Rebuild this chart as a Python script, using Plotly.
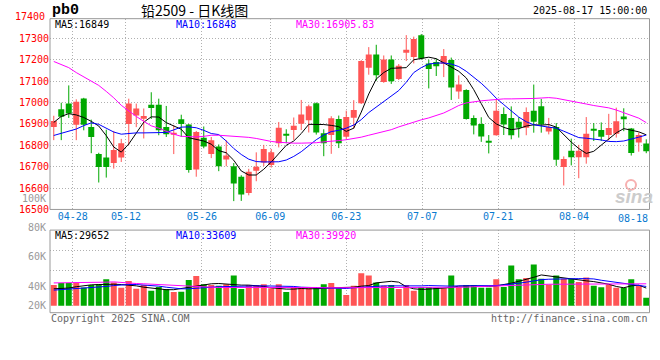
import plotly.graph_objects as go

# ---------------- data ----------------
dates = ["04-23", "04-24", "04-25", "04-28", "04-29", "04-30", "05-06", "05-07", "05-08", "05-09",
         "05-12", "05-13", "05-14", "05-15", "05-16", "05-19", "05-20", "05-21", "05-22", "05-23",
         "05-26", "05-27", "05-28", "05-29", "05-30", "06-03", "06-04", "06-05", "06-06", "06-09",
         "06-10", "06-11", "06-12", "06-13", "06-16", "06-17", "06-18", "06-19", "06-20", "06-23",
         "06-24", "06-25", "06-26", "06-27", "06-30", "07-01", "07-02", "07-03", "07-04", "07-07",
         "07-08", "07-09", "07-10", "07-11", "07-14", "07-15", "07-16", "07-17", "07-18", "07-21",
         "07-22", "07-23", "07-24", "07-25", "07-28", "07-29", "07-30", "07-31", "08-01", "08-04",
         "08-05", "08-06", "08-07", "08-08", "08-11", "08-12", "08-13", "08-14", "08-15", "08-18"]

opens = [16885, 16969, 16995, 16896, 17019, 16885, 16759, 16743, 16717, 16743,
         16900, 16939, 16928, 16989, 16989, 16885, 16850, 16922, 16897, 16687,
         16835, 16759, 16794, 16733, 16702, 16653, 16577, 16681, 16719, 16708,
         16810, 16853, 16871, 16901, 16917, 16996, 16856, 16848, 16923, 16840,
         16929, 16996, 17163, 17224, 17096, 17201, 17110, 17233, 17213, 17315,
         17183, 17189, 17181, 17199, 17051, 17058, 16928, 16900, 16821, 16847,
         16946, 16928, 16910, 16882, 16962, 16982, 16864, 16885, 16698, 16775,
         16744, 16744, 16877, 16871, 16848, 16854, 16935, 16878, 16813, 16808]
highs = [16938, 16999, 17080, 17015, 17022, 16920, 16765, 16873, 16867, 16830,
         17018, 16995, 16972, 17048, 17018, 16984, 16893, 16943, 16900, 16867,
         16888, 16839, 16804, 16824, 16717, 16660, 16690, 16767, 16802, 16783,
         16909, 16875, 16930, 17012, 16990, 17000, 16875, 16936, 16939, 16962,
         17011, 17198, 17259, 17270, 17220, 17220, 17180, 17315, 17308, 17320,
         17200, 17205, 17250, 17210, 17127, 17062, 16940, 16931, 16848, 17012,
         16977, 16982, 16931, 16977, 17084, 17017, 16928, 16904, 16748, 16831,
         16802, 16932, 16904, 16907, 16947, 16976, 16973, 16881, 16860, 16828]
lows = [16824, 16824, 16928, 16824, 16870, 16763, 16626, 16649, 16691, 16722,
        16801, 16885, 16832, 16923, 16847, 16839, 16759, 16839, 16672, 16653,
        16786, 16740, 16679, 16702, 16539, 16540, 16566, 16632, 16703, 16696,
        16790, 16810, 16825, 16871, 16860, 16850, 16749, 16760, 16787, 16828,
        16878, 16993, 17130, 17102, 17092, 17087, 17105, 17194, 17183, 17200,
        17066, 17124, 17119, 17012, 17017, 16920, 16851, 16816, 16762, 16845,
        16848, 16828, 16836, 16847, 16859, 16859, 16851, 16704, 16612, 16706,
        16646, 16714, 16820, 16820, 16822, 16836, 16866, 16752, 16770, 16763]
closes = [16913, 16934, 16949, 17004, 16896, 16839, 16699, 16699, 16778, 16809,
          16995, 16972, 16937, 16974, 16870, 16852, 16858, 16900, 16684, 16862,
          16794, 16824, 16702, 16752, 16621, 16570, 16676, 16700, 16783, 16767,
          16882, 16847, 16891, 16944, 16982, 16860, 16810, 16927, 16810, 16932,
          16965, 17194, 17224, 17127, 17201, 17099, 17172, 17247, 17297, 17206,
          17157, 17170, 17217, 17070, 17084, 16923, 16893, 16841, 16815, 16962,
          16897, 16847, 16882, 16956, 16910, 16897, 16885, 16732, 16736, 16744,
          16775, 16854, 16869, 16840, 16881, 16912, 16922, 16764, 16848, 16772]

ma5 = [16907, 16935, 16948, 16942, 16930, 16912, 16890, 16845, 16792, 16768,
       16806, 16860, 16908, 16933, 16932, 16906, 16890, 16875, 16835, 16828,
       16820, 16805, 16775, 16765, 16730, 16680, 16661, 16661, 16688, 16722,
       16760, 16800, 16820, 16855, 16898, 16899, 16897, 16893, 16887, 16865,
       16880, 16955, 17040, 17110, 17140, 17160, 17163, 17163, 17200, 17206,
       17212, 17205, 17185, 17163, 17146, 17115, 17060, 16995, 16930, 16900,
       16884, 16873, 16878, 16890, 16896, 16894, 16897, 16885, 16848, 16815,
       16785, 16762, 16772, 16800, 16830, 16858, 16878, 16872, 16863, 16849]
ma10 = [16846, 16856, 16865, 16876, 16892, 16905, 16898, 16880, 16862, 16852,
        16856, 16858, 16858, 16858, 16858, 16860, 16872, 16885, 16886, 16882,
        16870, 16855, 16850, 16820, 16785, 16757, 16735, 16724, 16722, 16722,
        16723, 16731, 16748, 16770, 16798, 16826, 16848, 16864, 16870, 16880,
        16895, 16920, 16953, 16978, 17002, 17028, 17056, 17095, 17140, 17163,
        17180, 17184, 17185, 17180, 17168, 17146, 17120, 17090, 17057, 17020,
        16990, 16960, 16932, 16910, 16896, 16890, 16886, 16880, 16866, 16850,
        16836, 16833, 16830, 16825, 16818, 16817, 16820, 16828, 16838, 16848]
ma30 = [17192, 17178, 17163, 17140, 17120, 17102, 17080, 17052, 17022, 16987,
        16959, 16935, 16912, 16891, 16880, 16865, 16852, 16842, 16840, 16839,
        16842, 16847, 16847, 16845, 16843, 16840, 16837, 16832, 16824, 16818,
        16814, 16811, 16810, 16810, 16810, 16812, 16816, 16818, 16822, 16826,
        16831, 16838, 16847, 16855, 16864, 16873, 16886, 16898, 16909, 16919,
        16928, 16938, 16951, 16968, 16986, 16998, 17004, 17008, 17011, 17015,
        17017, 17017, 17017, 17018, 17019, 17021, 17023, 17020, 17014, 17008,
        17000, 16993, 16986, 16981, 16975, 16965, 16953, 16941, 16927, 16906]

# volume, in thousands
volumes = [40.7, 42.2, 42.2, 42.5, 39.1, 40.7, 41.3, 44.7, 42.5, 38.9,
           43.5, 38.2, 40.7, 36.9, 39.5, 38.0, 36.0, 36.2, 44.2, 46.9,
           41.3, 40.7, 40.2, 41.3, 47.3, 38.0, 40.7, 40.7, 41.3, 38.5,
           41.3, 36.0, 39.1, 39.1, 38.5, 38.5, 41.3, 42.2, 38.5, 34.0,
           40.2, 48.7, 47.3, 42.5, 40.2, 40.7, 38.0, 40.7, 36.9, 39.5,
           39.5, 38.9, 38.5, 47.3, 39.5, 40.7, 40.7, 38.9, 38.9, 44.7,
           39.5, 54.0, 44.7, 45.5, 54.7, 45.1, 41.1, 47.3, 45.1, 45.1,
           42.9, 45.8, 40.2, 39.3, 41.1, 38.9, 38.9, 44.7, 40.2, 32.2]
vol_ma5 = [38.2, 38.4, 38.7, 39.6, 40.4, 40.9, 41.1, 41.3, 41.3, 41.1,
           40.7, 40.2, 39.3, 38.7, 38.0, 37.6, 37.6, 38.4, 39.3, 40.2,
           41.1, 41.6, 41.8, 41.3, 40.9, 40.7, 40.7, 40.4, 39.8, 38.9,
           38.4, 38.0, 38.0, 38.4, 38.2, 38.2, 38.4, 38.9, 38.9, 38.9,
           39.3, 40.0, 40.4, 42.2, 42.9, 43.3, 42.7, 39.6, 38.2, 37.8,
           38.0, 38.2, 38.4, 39.1, 40.0, 40.2, 40.2, 40.0, 39.8, 40.2,
           40.9, 42.0, 43.3, 44.4, 46.0, 47.6, 46.9, 46.0, 45.3, 44.9,
           44.2, 43.6, 43.1, 42.2, 41.3, 39.8, 38.9, 40.2, 40.7, 38.7]
vol_ma10 = [37.3, 37.6, 37.8, 38.2, 38.4, 38.9, 39.3, 39.8, 40.4, 40.9,
            41.1, 41.1, 40.9, 40.4, 40.0, 39.3, 38.7, 38.2, 38.2, 38.7,
            39.1, 39.3, 39.6, 39.8, 40.0, 40.2, 40.2, 40.2, 40.2, 40.2,
            40.2, 40.0, 39.8, 39.3, 39.1, 39.1, 38.9, 38.9, 38.7, 38.4,
            38.9, 39.3, 39.8, 40.2, 40.2, 40.2, 40.2, 39.8, 39.8, 40.2,
            40.4, 40.2, 39.8, 40.0, 40.2, 40.2, 40.2, 40.2, 40.2, 40.4,
            40.9, 41.3, 42.0, 42.7, 43.8, 44.4, 44.7, 44.9, 45.1, 45.1,
            45.1, 45.1, 44.9, 44.0, 43.3, 42.4, 41.6, 40.9, 40.4, 39.8]
vol_ma30 = [42.2, 42.2, 42.2, 42.2, 42.4, 42.7, 42.4, 42.7, 42.9, 42.4,
            42.0, 41.8, 41.6, 41.3, 41.1, 40.9, 40.4, 40.2, 40.0, 39.8,
            39.6, 39.3, 39.1, 39.1, 39.1, 39.1, 39.1, 39.1, 39.3, 39.3,
            39.6, 39.6, 39.6, 39.3, 39.1, 39.1, 38.9, 38.9, 38.9, 38.9,
            38.9, 38.9, 38.9, 38.9, 39.1, 39.1, 39.1, 39.1, 39.1, 38.9,
            38.9, 38.9, 38.9, 39.1, 39.3, 39.3, 39.6, 39.8, 40.0, 40.2,
            40.4, 40.7, 40.9, 41.1, 41.1, 41.3, 41.3, 41.3, 41.3, 41.3,
            41.3, 41.3, 41.3, 41.3, 41.6, 41.6, 41.6, 41.6, 41.6, 41.6]

price_ticks = [16500, 16600, 16700, 16800, 16900, 17000, 17100, 17200, 17300]
date_ticks = ["04-28", "05-12", "05-26", "06-09", "06-23", "07-07", "07-21", "08-04"]
vol_labels = ["100K", "80K", "60K", "40K", "20K"]

header_main = ["MA5:16849", "MA10:16848", "MA30:16905.83"]
header_vol = ["MA5:29652", "MA10:33609", "MA30:39920"]

# ---------------- styling helpers ----------------
W, H = 660, 360
def px(x):
    return x / W
def py(y):
    return 1 - y / H

UP = "#ff5555"
DOWN = "#00a800"
GRID = "#b0b0b0"
FRAME = "#999999"
MONO = "DejaVu Sans Mono"

n = len(dates)
idx = list(range(n))
up = [c >= o for o, c in zip(opens, closes)]
colors = [UP if u else DOWN for u in up]

# Sina places date grid lines with a spacing of width/(n-1)
tick_pos = [dates.index(d) * n / (n - 1) - 0.5 for d in date_ticks]

fig = go.Figure()

# wicks
for flag, col in ((True, UP), (False, DOWN)):
    xs, ys = [], []
    for i in idx:
        if up[i] == flag:
            xs += [i, i, None]
            ys += [lows[i], highs[i], None]
    fig.add_trace(go.Scatter(x=xs, y=ys, mode="lines", line=dict(color=col, width=1),
                             hoverinfo="skip", xaxis="x", yaxis="y"))

# bodies
fig.add_trace(go.Bar(x=idx,
                     base=[min(o, c) for o, c in zip(opens, closes)],
                     y=[max(abs(c - o), 4) for o, c in zip(opens, closes)],
                     width=0.8, marker=dict(color=colors, line=dict(width=0)),
                     xaxis="x", yaxis="y"))

# moving averages
for vals, col in ((ma5, "#000000"), (ma10, "#0000ff"), (ma30, "#ff00ff")):
    fig.add_trace(go.Scatter(x=idx, y=vals, mode="lines", line=dict(color=col, width=1),
                             xaxis="x", yaxis="y"))

# volume
fig.add_trace(go.Bar(x=idx, y=volumes, width=0.8, marker=dict(color=colors, line=dict(width=0)),
                     xaxis="x2", yaxis="y2"))
for vals, col in ((vol_ma5, "#000000"), (vol_ma10, "#0000ff"), (vol_ma30, "#ff00ff")):
    fig.add_trace(go.Scatter(x=idx, y=vals, mode="lines", line=dict(color=col, width=1),
                             xaxis="x2", yaxis="y2"))

xdom = [px(50), px(650)]
grid_common = dict(showgrid=True, gridcolor=GRID, gridwidth=1, griddash="1px,2px",
                   zeroline=False, showline=False, ticks="")

fig.update_layout(
    width=W, height=H, margin=dict(l=0, r=0, t=0, b=0),
    paper_bgcolor="white", plot_bgcolor="white", showlegend=False,
    font=dict(family=MONO, size=10, color="#000000"),
    xaxis=dict(domain=xdom, range=[-0.5, n - 0.5], anchor="y", tickmode="array",
               tickvals=tick_pos, ticktext=date_ticks,
               tickfont=dict(family=MONO, size=10, color="#0a7ad0"), **grid_common),
    yaxis=dict(domain=[py(213), py(19)], range=[16500, 17392], anchor="x", tickmode="array",
               tickvals=price_ticks, ticktext=[str(v) for v in price_ticks],
               tickfont=dict(family=MONO, size=10, color="#ff0000"), **grid_common),
    xaxis2=dict(domain=xdom, range=[-0.5, n - 0.5], anchor="y2", matches="x", tickmode="array",
                tickvals=tick_pos, showticklabels=False, **grid_common),
    yaxis2=dict(domain=[py(311), py(234)], range=[26.67, 78.0], anchor="x2", tickmode="array",
                tickvals=[50.7, 64.0], showticklabels=False, **grid_common),
)

shapes = [
    dict(type="rect", xref="paper", yref="paper", x0=px(50), x1=px(649.5), y0=py(213), y1=py(19),
         line=dict(color=FRAME, width=1), fillcolor="rgba(0,0,0,0)", layer="above"),
    dict(type="rect", xref="paper", yref="paper", x0=px(50), x1=px(649.5), y0=py(318), y1=py(234),
         line=dict(color=FRAME, width=1), fillcolor="rgba(0,0,0,0)", layer="above"),
    dict(type="circle", xref="paper", yref="paper", x0=px(626), x1=px(636), y0=py(193), y1=py(183),
         line=dict(color="#f7b0b0", width=2), fillcolor="rgba(0,0,0,0)", layer="below"),
]
fig.update_layout(shapes=shapes)

ann = []
def text(x, y, s, color="#000000", size=10, anchor="left", family=MONO, **kw):
    ann.append(dict(xref="paper", yref="paper", x=px(x), y=py(y), text=s, showarrow=False,
                    xanchor=anchor, yanchor="middle",
                    font=dict(family=family, size=size, color=color, **kw)))

text(50, 11, "pb0", size=15, family="Liberation Mono", weight="bold")
text(194, 10, "铅2509 - 日K线图", size=14, anchor="center", family="Noto Sans CJK SC")
text(649, 11, "2025-08-17 15:00:00", anchor="right")
text(47, 17, "17400", color="#ff0000", anchor="right")

for s, x, c in zip(header_main, (53, 174, 294), ("#000000", "#0000ff", "#ff00ff")):
    text(x, 24.5, s, color=c)
for s, x, c in zip(header_vol, (53, 174, 294), ("#000000", "#0000ff", "#ff00ff")):
    text(x, 239, s, color=c)

for s, y in zip(vol_labels, (201.5, 231, 261, 291, 311)):
    text(48, y, s, color="#999999", anchor="right")

text(650, 222, "08-18", color="#0a7ad0", anchor="right")
text(49, 324, "Copyright 2025 SINA.COM", color="#666666")
text(650, 324, "http://finance.sina.com.cn", color="#666666", anchor="right")
text(634, 200, "sina", color="#cccccc", size=19, anchor="center", family="Liberation Sans",
     weight="bold", style="italic")

fig.update_layout(annotations=ann)

fig.write_html("out.html", config={"displayModeBar": False},
               post_script="document.body.style.margin='0';")
